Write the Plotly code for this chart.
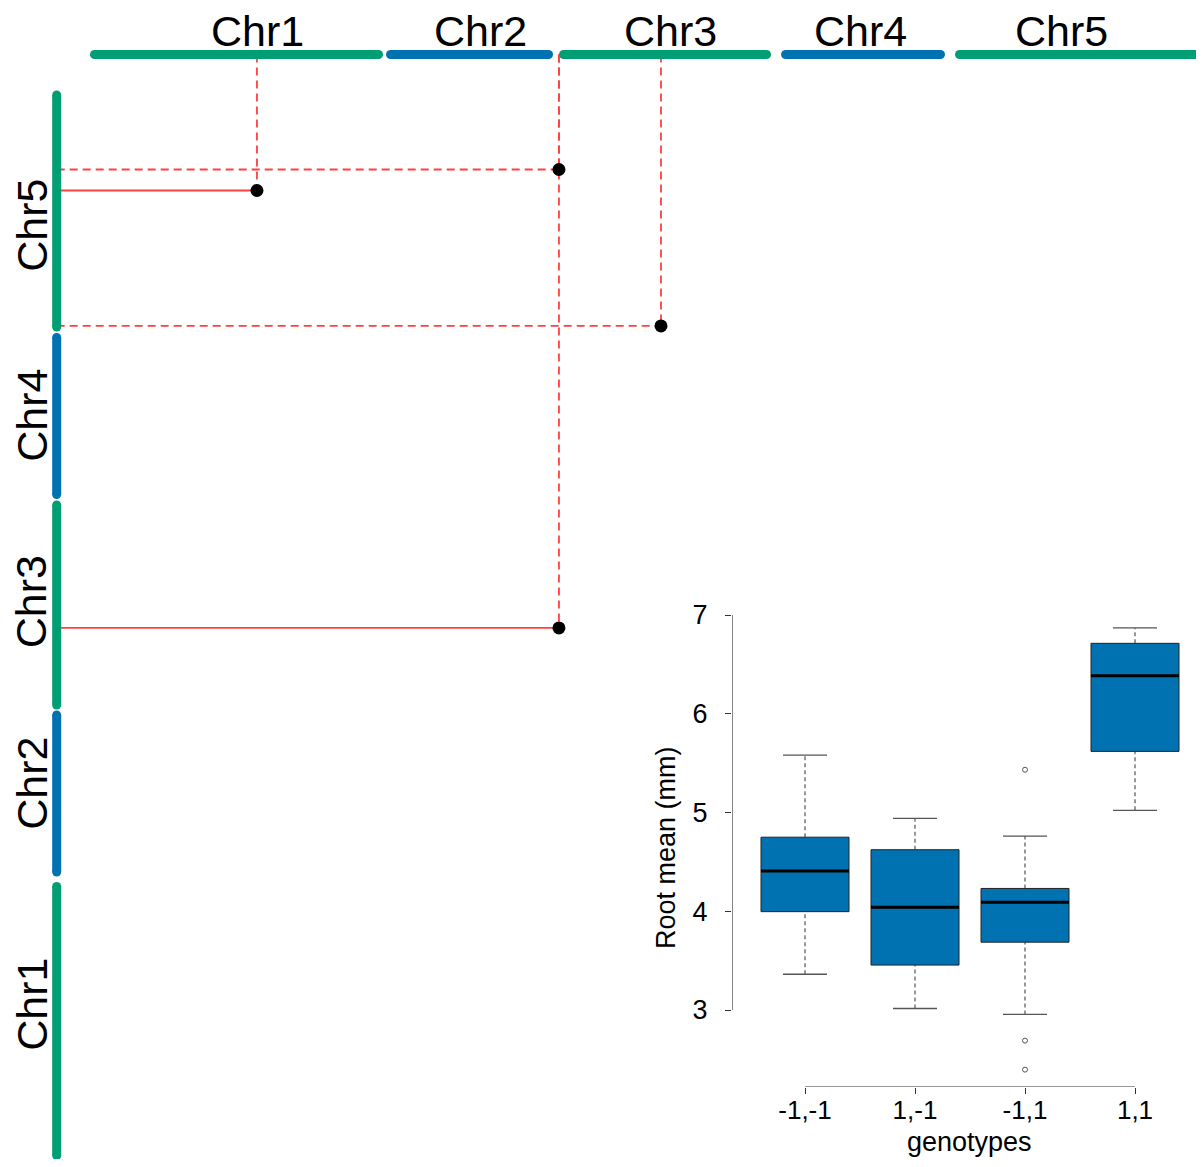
import plotly.graph_objects as go

# ---------------- data ----------------
chrom_names = ["Chr1", "Chr2", "Chr3", "Chr4", "Chr5"]
# cumulative chromosome extents (Mb) along the top (x) axis
top_start = [0.0, 31.16, 49.37, 72.74, 91.05]
top_end = [29.90, 47.79, 70.74, 89.05, 118.0]
# cumulative chromosome extents (Mb) along the left (y) axis
left_start = [0.0, 29.84, 47.42, 69.58, 87.21]
left_end = [28.32, 46.37, 68.47, 86.11, 111.63]
# label positions (Mb)
top_label_pos = [17.16, 40.68, 60.68, 80.58, 101.84]
left_label_pos = [15.95, 39.21, 58.32, 77.95, 97.95]

# epistatic QTL pairs (cumulative Mb)
qtl_x = [17.10, 48.89, 59.63, 48.89]
qtl_y = [101.58, 103.79, 87.32, 55.53]
qtl_significant = [True, False, False, True]

# inset boxplot statistics
genotypes = ["-1,-1", "1,-1", "-1,1", "1,1"]
lower_whisker = [3.362, 3.015, 2.955, 5.022]
q1 = [3.996, 3.455, 3.687, 5.619]
median = [4.407, 4.041, 4.090, 6.384]
q3 = [4.750, 4.623, 4.231, 6.713]
upper_whisker = [5.582, 4.940, 4.761, 6.869]
outlier_group = [3, 3, 3]
outlier_value = [5.433, 2.690, 2.396]
y_ticks = [3, 4, 5, 6, 7]

# ---------------- style ----------------
GREEN = "#009E73"
BLUE = "#0072B2"
RED = "#FF4040"
FONT = "Liberation Sans, Arial, sans-serif"
TOP_Y = 115.89
LEFT_X = -3.98
BAR_W = 9

# the page body has an 8px margin; lay the figure out for the visible area
OFF = 8
W, H = 1204 - 2 * OFF, 1167 - 2 * OFF


def px_x(p):
    return (p - OFF) / W


def px_y(p):
    return 1 - (p - OFF) / H


fig = go.Figure()

# connecting lines (drawn first, under the bars)
for k in range(len(qtl_x)):
    fig.add_trace(go.Scatter(
        x=[qtl_x[k], qtl_x[k]], y=[TOP_Y, qtl_y[k]], mode="lines",
        line=dict(color=RED, width=1.8, dash="8px,5px"),
        hoverinfo="skip", showlegend=False))
    fig.add_trace(go.Scatter(
        x=[LEFT_X, qtl_x[k]], y=[qtl_y[k], qtl_y[k]], mode="lines",
        line=dict(color=RED, width=1.8,
                  dash="solid" if qtl_significant[k] else "8px,5px"),
        hoverinfo="skip", showlegend=False))

# chromosome bars
for i, name in enumerate(chrom_names):
    col = GREEN if i % 2 == 0 else BLUE
    fig.add_trace(go.Scatter(
        x=[top_start[i], top_end[i]], y=[TOP_Y, TOP_Y], mode="lines+markers",
        line=dict(color=col, width=BAR_W),
        marker=dict(color=col, size=BAR_W, line=dict(width=0)),
        hoverinfo="skip", showlegend=False))
    fig.add_trace(go.Scatter(
        x=[LEFT_X, LEFT_X], y=[left_start[i], left_end[i]], mode="lines+markers",
        line=dict(color=col, width=BAR_W),
        marker=dict(color=col, size=BAR_W, line=dict(width=0)),
        hoverinfo="skip", showlegend=False))

# QTL points
fig.add_trace(go.Scatter(
    x=qtl_x, y=qtl_y, mode="markers",
    marker=dict(color="black", size=13, line=dict(width=0)),
    hoverinfo="skip", showlegend=False))

annotations = []
for i, name in enumerate(chrom_names):
    annotations.append(dict(
        x=top_label_pos[i], y=118.37, xref="x", yref="y", text=name,
        showarrow=False, font=dict(family=FONT, size=43, color="black"),
        xanchor="center", yanchor="middle"))
    annotations.append(dict(
        x=-6.6, y=left_label_pos[i], xref="x", yref="y", text=name,
        textangle=-90, showarrow=False,
        font=dict(family=FONT, size=43, color="black"),
        xanchor="center", yanchor="middle"))

# ---------------- inset boxplot ----------------
BOX_HALF = 0.4
CAP_HALF = 0.2
for i in range(len(genotypes)):
    c = i + 1
    # whiskers (dashed)
    for a, b in [(q3[i], upper_whisker[i]), (lower_whisker[i], q1[i])]:
        fig.add_trace(go.Scatter(
            x=[c, c], y=[a, b], mode="lines", xaxis="x2", yaxis="y2",
            line=dict(color="#555555", width=1.2, dash="4px,3px"),
            hoverinfo="skip", showlegend=False))
    # caps
    for v in (upper_whisker[i], lower_whisker[i]):
        fig.add_trace(go.Scatter(
            x=[c - CAP_HALF, c + CAP_HALF], y=[v, v], mode="lines",
            xaxis="x2", yaxis="y2", line=dict(color="#555555", width=1.3),
            hoverinfo="skip", showlegend=False))
    # box
    fig.add_trace(go.Scatter(
        x=[c - BOX_HALF, c + BOX_HALF, c + BOX_HALF, c - BOX_HALF, c - BOX_HALF],
        y=[q1[i], q1[i], q3[i], q3[i], q1[i]], mode="lines", fill="toself",
        fillcolor=BLUE, xaxis="x2", yaxis="y2",
        line=dict(color="#222222", width=1),
        hoverinfo="skip", showlegend=False))
    # median
    fig.add_trace(go.Scatter(
        x=[c - BOX_HALF, c + BOX_HALF], y=[median[i], median[i]], mode="lines",
        xaxis="x2", yaxis="y2", line=dict(color="black", width=3),
        hoverinfo="skip", showlegend=False))

fig.add_trace(go.Scatter(
    x=outlier_group, y=outlier_value, mode="markers", xaxis="x2", yaxis="y2",
    marker=dict(symbol="circle-open", color="#555555", size=5,
                line=dict(width=1, color="#555555")),
    hoverinfo="skip", showlegend=False))

X2_RANGE = [0.33636, 4.40909]
Y2_RANGE = [2.2203, 7.1519]

shapes = [
    dict(type="line", xref="x2", yref="y2", x0=X2_RANGE[0], x1=X2_RANGE[0],
         y0=y_ticks[0], y1=y_ticks[-1], line=dict(color="#333333", width=1.2)),
    dict(type="line", xref="x2", yref="y2", x0=1, x1=len(genotypes),
         y0=Y2_RANGE[0], y1=Y2_RANGE[0], line=dict(color="#333333", width=1.2)),
]

annotations.append(dict(
    x=px_x(666), y=px_y(848), xref="paper", yref="paper",
    text="Root mean (mm)", textangle=-90, showarrow=False,
    font=dict(family=FONT, size=27, color="black"),
    xanchor="center", yanchor="middle"))
annotations.append(dict(
    x=px_x(969.5), y=px_y(1142), xref="paper", yref="paper",
    text="genotypes", showarrow=False,
    font=dict(family=FONT, size=27, color="black"),
    xanchor="center", yanchor="middle"))

fig.update_layout(
    width=W, height=H,
    margin=dict(l=0, r=0, t=0, b=0),
    paper_bgcolor="white", plot_bgcolor="rgba(0,0,0,0)",
    xaxis=dict(domain=[0, 1],
               range=[(OFF - 94.5) / 9.5, (OFF + W - 94.5) / 9.5],
               visible=False, showgrid=False, zeroline=False, fixedrange=True),
    yaxis=dict(domain=[0, 1],
               range=[(1155.5 - (OFF + H)) / 9.5, (1155.5 - OFF) / 9.5],
               visible=False, showgrid=False, zeroline=False, fixedrange=True),
    xaxis2=dict(domain=[px_x(732), px_x(1180)], range=X2_RANGE,
                anchor="y2", showgrid=False, zeroline=False, showline=False,
                ticks="outside", ticklen=6, tickwidth=1.2, tickcolor="#333333",
                tickvals=[1, 2, 3, 4], ticktext=genotypes,
                tickfont=dict(family=FONT, size=26, color="black"),
                ticklabelstandoff=-6),
    yaxis2=dict(domain=[px_y(1087), px_y(600)], range=Y2_RANGE,
                anchor="x2", showgrid=False, zeroline=False, showline=False,
                ticks="outside", ticklen=6, tickwidth=1.2, tickcolor="#333333",
                tickvals=y_ticks, ticktext=[str(t) for t in y_ticks],
                tickfont=dict(family=FONT, size=27, color="black"),
                ticklabelstandoff=12),
    shapes=shapes,
    annotations=annotations,
)

fig.write_html("out.html")
